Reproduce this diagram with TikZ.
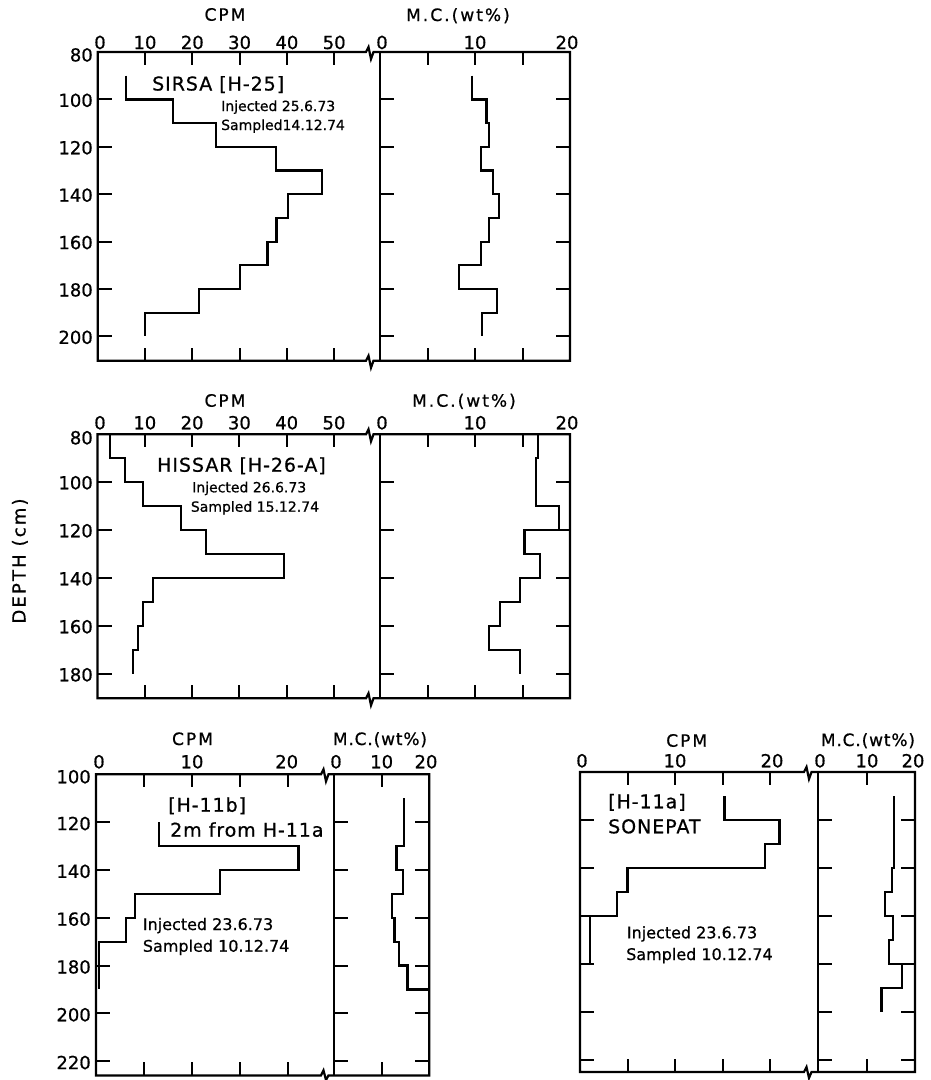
\documentclass[tikz,border=0pt]{standalone}
\usepackage{fontspec}
\setmainfont{DejaVu Sans}[FakeBold=0.7]
\newfontfamily\lsA[LetterSpace=12,FakeBold=0.7]{DejaVu Sans}
\newfontfamily\lsB[LetterSpace=5,FakeBold=0.7]{DejaVu Sans}
\begin{document}
\begin{tikzpicture}[x=1pt,y=-1pt,
  ax/.style={line width=2.2pt,line join=miter},
  tk/.style={line width=2pt},
  dat/.style={line width=2.2pt,line join=miter},
  num/.style={inner sep=0pt,anchor=base,font=\fontsize{18}{18}\selectfont},
  numl/.style={inner sep=0pt,anchor=base east,font=\fontsize{18}{18}\selectfont},
  ttl/.style={inner sep=0pt,anchor=base,font=\lsA\fontsize{17}{17}\selectfont},
  ttlb/.style={inner sep=0pt,anchor=base,font=\lsB\fontsize{17}{17}\selectfont},
  site/.style={inner sep=0pt,anchor=base west,font=\lsB\fontsize{19}{19}\selectfont},
  note/.style={inner sep=0pt,anchor=base west,font=\fontsize{14}{14}\selectfont},
  noteb/.style={inner sep=0pt,anchor=base west,font=\fontsize{16}{16}\selectfont}]
\useasboundingbox (0,0) rectangle (931,1080);
\fill[white] (0,0) rectangle (931,1080);

% ================= Panel A (SIRSA) =================
\draw[ax] (97.7,52) -- (366,52) -- (368.5,47) -- (371,59) -- (373.5,52) -- (570,52) -- (570,360.7)
  -- (373.5,360.7) -- (371,367.7) -- (368.5,355.7) -- (366,360.7) -- (97.7,360.7) -- cycle;
\draw[ax] (380,52) -- (380,360.7);
\foreach \v in {10,20,...,50} {
  \draw[tk] ({97.7+4.73*\v},52) -- ++(0,13);
  \draw[tk] ({97.7+4.73*\v},360.7) -- ++(0,-13);
  \node[num] (A-c\v) at ({97.7+4.73*\v},49) {\v};}
\foreach \v in {5,10,15} {
  \draw[tk] ({380+9.5*\v},52) -- ++(0,13);
  \draw[tk] ({380+9.5*\v},360.7) -- ++(0,-13);}
\foreach \d in {100,120,...,200} {
  \draw[tk] (97.7,{52+2.37*(\d-80)}) -- ++(14,0);
  \draw[tk] (380,{52+2.37*(\d-80)}) -- ++(14,0);
  \draw[tk] (570,{52+2.37*(\d-80)}) -- ++(-14,0);
  \node[numl] (A-y\d) at (93,{52+2.37*(\d-80)+7.5}) {\d};}
\node[numl] (A-y80) at (93,61.5) {80};
\node[num] (A-c0) at (100,49) {0};
\node[num] (A-m0) at (382,49) {0};
\node[num] (A-m10) at (475,49) {10};
\node[num] (A-m20) at (567,49) {20};
\node[ttl] (A-cpm) at (225,20.7) {CPM};
\node[ttl] (A-mc) at (458,21) {M.C.(wt\%)};
\node[site] (A-site) at (152,90.5) {SIRSA [H-25]};
\node[note] (A-inj) at (221,111) {Injected 25.6.73};
\node[note] (A-smp) at (221,130) {Sampled14.12.74};
\begin{scope}[shift={(97.7,-137.6)},x=4.73pt,y=-2.37pt]
  \draw[dat] (6,90) |- (16,100) |- (25,110) |- (37.7,120) |- (47.4,130) |- (40.2,140) |- (37.8,150)
    |- (35.9,160) |- (30,170) |- (21.4,180) |- (10,190) -- (10,200);
\end{scope}
\begin{scope}[shift={(380,-137.6)},x=9.5pt,y=-2.37pt]
  \draw[dat] (9.7,90) |- (11.2,100) |- (11.5,110) |- (10.6,120) |- (11.9,130) |- (12.5,140) |- (11.5,150)
    |- (10.6,160) |- (8.35,170) |- (12.3,180) |- (10.7,190) -- (10.7,200);
\end{scope}

% ================= Panel B (HISSAR) =================
\draw[ax] (97.5,434.3) -- (366,434.3) -- (368.5,429.3) -- (371,441.3) -- (373.5,434.3) -- (570,434.3) -- (570,698.3)
  -- (373.5,698.3) -- (371,705.3) -- (368.5,693.3) -- (366,698.3) -- (97.5,698.3) -- cycle;
\draw[ax] (380,434.3) -- (380,698.3);
\foreach \v in {10,20,...,50} {
  \draw[tk] ({97.5+4.73*\v},434.3) -- ++(0,13);
  \draw[tk] ({97.5+4.73*\v},698.3) -- ++(0,-13);
  \node[num] (B-c\v) at ({97.5+4.73*\v},429.3) {\v};}
\foreach \v in {5,10,15} {
  \draw[tk] ({380+9.5*\v},434.3) -- ++(0,13);
  \draw[tk] ({380+9.5*\v},698.3) -- ++(0,-13);}
\foreach \d in {100,120,...,180} {
  \draw[tk] (97.5,{434.3+2.4*(\d-80)}) -- ++(14,0);
  \draw[tk] (380,{434.3+2.4*(\d-80)}) -- ++(14,0);
  \draw[tk] (570,{434.3+2.4*(\d-80)}) -- ++(-14,0);
  \node[numl] (B-y\d) at (93,{434.3+2.4*(\d-80)+7}) {\d};}
\node[numl] (B-y80) at (93,444.3) {80};
\node[num] (B-c0) at (100,429.3) {0};
\node[num] (B-m0) at (382,429.3) {0};
\node[num] (B-m10) at (475,429.3) {10};
\node[num] (B-m20) at (567,429.3) {20};
\node[ttl] (B-cpm) at (225,406.7) {CPM};
\node[ttl] (B-mc) at (464,406.7) {M.C.(wt\%)};
\node[site] (B-site) at (157,471.7) {HISSAR [H-26-A]};
\node[note] (B-inj) at (192,492.3) {Injected 26.6.73};
\node[note] (B-smp) at (190.7,511.7) {Sampled 15.12.74};
\begin{scope}[shift={(97.5,242.3)},x=4.73pt,y=-2.4pt]
  \draw[dat] (2.7,80) |- (5.8,90) |- (9.7,100) |- (17.6,110) |- (23,120) |- (39.5,130) |- (11.8,140)
    |- (9.7,150) |- (8.5,160) |- (7.5,170) -- (7.5,180);
\end{scope}
\begin{scope}[shift={(380,242.3)},x=9.5pt,y=-2.4pt]
  \draw[dat] (16.6,80) |- (16.4,90) |- (18.8,110) |- (15.2,120) |- (16.8,130) |- (14.7,140) |- (12.6,150)
    |- (11.5,160) |- (14.7,170) -- (14.7,180);
\end{scope}

% DEPTH label
\node[inner sep=0pt,anchor=base,rotate=90,font=\lsA\fontsize{18}{18}\selectfont] (depth) at (25.5,561) {DEPTH (cm)};

% ================= Panel C (H-11b) =================
\draw[ax] (96,774.3) -- (321,774.3) -- (323.5,769.3) -- (326,781.3) -- (328.5,774.3) -- (429.3,774.3) -- (429.3,1075.4)
  -- (328.5,1075.4) -- (326,1080) -- (323.5,1070.4) -- (321,1075.4) -- (96,1075.4) -- cycle;
\draw[ax] (334,774.3) -- (334,1075.4);
\foreach \v in {5,10,15,20} {
  \draw[tk] ({96+9.6*\v},774.3) -- ++(0,13);
  \draw[tk] ({96+9.6*\v},1075.4) -- ++(0,-13);}
\draw[tk] (381.7,774.3) -- ++(0,13);
\draw[tk] (381.7,1075.4) -- ++(0,-13);
\foreach \d in {120,140,...,220} {
  \draw[tk] (96,{774.3+2.39*(\d-100)}) -- ++(14,0);
  \draw[tk] (334,{774.3+2.39*(\d-100)}) -- ++(14,0);
  \draw[tk] (429.3,{774.3+2.39*(\d-100)}) -- ++(-14,0);
  \node[numl] (C-y\d) at (91,{774.3+2.39*(\d-100)+8}) {\d};}
\node[numl] (C-y100) at (91,783.3) {100};
\node[num] (C-c0) at (99,768.3) {0};
\node[num] (C-c10) at (192,768.3) {10};
\node[num] (C-c20) at (286.7,768.3) {20};
\node[num] (C-m0) at (336,768.3) {0};
\node[num] (C-m10) at (381.7,768.3) {10};
\node[num] (C-m20) at (426,768.3) {20};
\node[ttl] (C-cpm) at (192.5,745) {CPM};
\node[ttlb] (C-mc) at (380,745) {M.C.(wt\%)};
\node[site] (C-site) at (168,811.7) {[H-11b]};
\node[site] (C-dist) at (170,836.7) {2m from H-11a};
\node[noteb] (C-inj) at (142.7,930) {Injected 23.6.73};
\node[noteb] (C-smp) at (142.7,951.7) {Sampled 10.12.74};
\begin{scope}[shift={(96,535.3)},x=9.6pt,y=-2.39pt]
  \draw[dat] (6.6,120) |- (21.1,130) |- (12.9,140) |- (4.1,150) |- (3.1,160) |- (0.3,170) -- (0.3,190);
\end{scope}
\begin{scope}[shift={(334,535.3)},x=4.77pt,y=-2.39pt]
  \draw[dat] (14.7,110) |- (13.1,130) |- (14.5,140) |- (12.2,150) |- (12.7,160) |- (13.6,170) |- (15.4,180) |- (20,190);
\end{scope}

% ================= Panel D (H-11a SONEPAT) =================
\draw[ax] (580,772) -- (804,772) -- (806.5,767) -- (809,779) -- (811.5,772) -- (915,772) -- (915,1072)
  -- (811.5,1072) -- (809,1078) -- (806.5,1067) -- (804,1072) -- (580,1072) -- cycle;
\draw[ax] (818.3,772) -- (818.3,1072);
\foreach \v in {5,10,15,20} {
  \draw[tk] ({580+9.5*\v},772) -- ++(0,13);
  \draw[tk] ({580+9.5*\v},1072) -- ++(0,-13);}
\draw[tk] (866.6,772) -- ++(0,13);
\draw[tk] (866.6,1072) -- ++(0,-13);
\foreach \d in {120,140,...,220} {
  \draw[tk] (580,{772+2.4*(\d-100)}) -- ++(14,0);
  \draw[tk] (818.3,{772+2.4*(\d-100)}) -- ++(14,0);
  \draw[tk] (915,{772+2.4*(\d-100)}) -- ++(-14,0);}
\node[num] (D-c0) at (582,767.3) {0};
\node[num] (D-c10) at (675,767.3) {10};
\node[num] (D-c20) at (772,767.3) {20};
\node[num] (D-m0) at (820,767.3) {0};
\node[num] (D-m10) at (867,767.3) {10};
\node[num] (D-m20) at (913,767.3) {20};
\node[ttl] (D-cpm) at (686.7,746.7) {CPM};
\node[ttlb] (D-mc) at (868,746) {M.C.(wt\%)};
\node[site] (D-site) at (608,808.3) {[H-11a]};
\node[site] (D-name) at (608,833.3) {SONEPAT};
\node[noteb] (D-inj) at (626.7,938.3) {Injected 23.6.73};
\node[noteb] (D-smp) at (626,960) {Sampled 10.12.74};
\begin{scope}[shift={(580,532)},x=9.5pt,y=-2.4pt]
  \draw[dat] (15.2,110) |- (21,120) |- (19.5,130) |- (5,140) |- (3.9,150) |- (0,160) -- (0,200);
  \draw[dat] (0,160) -| (1.05,180) -- (0,180);
\end{scope}
\begin{scope}[shift={(818.3,532)},x=4.83pt,y=-2.4pt]
  \draw[dat] (15.7,110) |- (15.2,140) |- (13.8,150) |- (15.5,160) |- (14.7,170) |- (17.3,180) |- (13.1,190) -- (13.1,200);
\end{scope}
\end{tikzpicture}
\end{document}
